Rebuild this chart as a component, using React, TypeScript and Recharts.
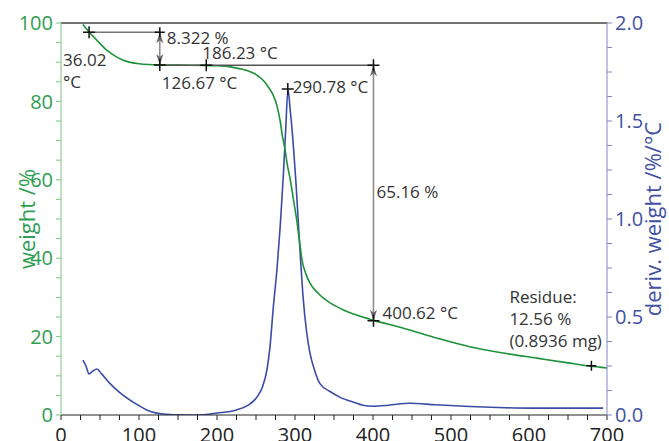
import React from 'react';
import { ComposedChart, Line, XAxis, YAxis, ReferenceLine, ReferenceDot } from 'recharts';

const FONT = '"Open Sans", "Noto Sans", sans-serif';

// TGA weight curve
const temperatureW = [28, 36, 45, 59, 70, 80, 100, 127, 150, 187, 200, 217, 230, 242, 252, 260, 266, 272, 277, 281, 284, 287, 290, 294, 298, 302, 306, 309, 314, 319, 330, 345, 360, 379, 400, 438, 482, 524, 567, 610, 650, 678, 700];
const weightPct = [99.6, 97.7, 95.8, 93.0, 91.5, 90.5, 89.6, 89.3, 89.25, 89.2, 89.1, 88.8, 88.3, 87.6, 86.6, 85.2, 83.6, 81.6, 78.8, 75.0, 71.0, 68.0, 64.0, 60.0, 55.0, 50.0, 44.0, 39.5, 36.0, 33.7, 31.0, 28.6, 27.0, 25.5, 24.2, 22.2, 19.6, 17.4, 15.8, 14.5, 13.3, 12.5, 12.0];

// DTG derivative curve
const temperatureD = [28, 32, 36, 41, 46, 52, 63, 75, 88, 100, 110, 120, 131, 150, 174, 200, 225, 240, 251, 258, 264, 268, 272, 277, 281, 285, 288, 291, 294, 297, 301, 304, 307, 310, 315, 319, 325, 332, 345, 358, 375, 387, 400, 420, 447, 480, 524, 560, 601, 650, 695];
const derivWeight = [0.28, 0.25, 0.21, 0.225, 0.235, 0.21, 0.16, 0.115, 0.077, 0.048, 0.026, 0.012, 0.005, 0.001, 0.0, 0.01, 0.026, 0.05, 0.09, 0.14, 0.23, 0.35, 0.54, 0.75, 0.96, 1.22, 1.45, 1.66, 1.55, 1.42, 1.2, 1.0, 0.8, 0.62, 0.42, 0.32, 0.23, 0.16, 0.12, 0.09, 0.065, 0.05, 0.045, 0.05, 0.06, 0.052, 0.043, 0.038, 0.035, 0.035, 0.035];

const xTicks = [0, 25, 50, 75, 100, 125, 150, 175, 200, 225, 250, 275, 300, 325, 350, 375, 400, 425, 450, 475, 500, 525, 550, 575, 600, 625, 650, 675, 700];
const leftTicks = [0, 5, 10, 15, 20, 25, 30, 35, 40, 45, 50, 55, 60, 65, 70, 75, 80, 85, 90, 95, 100];
const rightTicks = [0, 0.125, 0.25, 0.375, 0.5, 0.625, 0.75, 0.875, 1.0, 1.125, 1.25, 1.375, 1.5, 1.625, 1.75, 1.875, 2.0];

// annotation values
const onsetT = 36.02;
const onsetW = 97.62;
const step1T = 126.67;
const step1W = 89.3;
const step2T = 186.23;
const step2W = 89.2;
const peakT = 290.78;
const peakD = 1.663;
const endT = 400.62;
const endW = 24.04;
const residueT = 680;
const residueW = 12.56;

const weightData = temperatureW.map((t, i) => ({ t, w: weightPct[i] }));
const derivData = temperatureD.map((t, i) => ({ t, d: derivWeight[i] }));

const GREEN = '#1f9139';
const GREEN_TXT = '#2f9e52';
const BLUE = '#3b4ca6';
const BLUE_TXT = '#3f51a3';
const ANN = '#333';

const plusShape = (size: number) => (p: any) => (
  <path d={`M${p.cx - size},${p.cy}H${p.cx + size}M${p.cx},${p.cy - size}V${p.cy + size}`} stroke="#111" strokeWidth={1.5} fill="none" />
);
const arrowUp = (p: any) => (
  <path d={`M${p.cx},${p.cy}L${p.cx - 3.5},${p.cy + 11}L${p.cx},${p.cy + 8}L${p.cx + 3.5},${p.cy + 11}Z`} fill="#666" />
);
const arrowDown = (p: any) => (
  <path d={`M${p.cx},${p.cy}L${p.cx - 3.5},${p.cy - 11}L${p.cx},${p.cy - 8}L${p.cx + 3.5},${p.cy - 11}Z`} fill="#666" />
);
const textShape = (lines: string[], dx: number, dy: number, lh = 22) => (p: any) => (
  <text x={p.cx + dx} y={p.cy + dy} fill={ANN} fontSize={17} fontFamily={FONT}>
    {lines.map((l, i) => (
      <tspan key={i} x={p.cx + dx} dy={i === 0 ? 0 : lh}>{l}</tspan>
    ))}
  </text>
);

const leftTitle = (props: any) => {
  const vb = props.viewBox || { x: 0, y: 23, width: 61, height: 392 };
  const cx = vb.x + 26;
  const cy = vb.y + vb.height / 2;
  return (
    <text x={cx} y={cy} transform={`rotate(-90 ${cx} ${cy})`} textAnchor="middle" dominantBaseline="central" fill={GREEN_TXT} fontSize={22} fontFamily={FONT}>
      weight /%
    </text>
  );
};
const rightTitle = (props: any) => {
  const vb = props.viewBox || { x: 607, y: 23, width: 62, height: 392 };
  const cx = vb.x + 45;
  const cy = vb.y + vb.height / 2;
  return (
    <text x={cx} y={cy} transform={`rotate(-90 ${cx} ${cy})`} textAnchor="middle" dominantBaseline="central" fill={BLUE_TXT} fontSize={22} fontFamily={FONT}>
      deriv. weight /%/°C
    </text>
  );
};

export default function App() {
  return (
    <div style={{ position: 'absolute', left: 0, top: 0 }}>
      <ComposedChart width={669} height={441} margin={{ top: 23, right: 0, bottom: 0, left: 0 }}>
        <XAxis
          type="number"
          dataKey="t"
          domain={[0, 700]}
          ticks={xTicks}
          interval={0}
          tickFormatter={(v: number) => (v % 100 === 0 ? String(v) : '')}
          height={26}
          tickSize={5}
          tickMargin={8}
          stroke="#222"
          tick={{ fill: '#222', fontSize: 20, fontFamily: FONT }}
          allowDataOverflow
        />
        <YAxis
          yAxisId="w"
          domain={[0, 100]}
          ticks={leftTicks}
          interval={0}
          tickFormatter={(v: number) => (v % 20 === 0 ? String(v) : '')}
          width={61}
          tickSize={5}
          tickMargin={3}
          stroke="#7cc47f"
          tick={{ fill: GREEN_TXT, fontSize: 20, fontFamily: FONT }}
          label={{ content: leftTitle }}
          allowDataOverflow
        />
        <YAxis
          yAxisId="d"
          orientation="right"
          domain={[0, 2]}
          ticks={rightTicks}
          interval={0}
          tickFormatter={(v: number) => (Math.abs(v * 2 - Math.round(v * 2)) < 1e-9 ? v.toFixed(1) : '')}
          width={62}
          tickSize={5}
          tickMargin={3}
          stroke="#8088c4"
          tick={{ fill: BLUE_TXT, fontSize: 20, fontFamily: FONT }}
          label={{ content: rightTitle }}
          allowDataOverflow
        />
        <ReferenceLine yAxisId="w" y={100} stroke="#444" strokeWidth={1.5} />

        <Line yAxisId="d" data={derivData} dataKey="d" type="monotone" stroke={BLUE} strokeWidth={1.6} dot={false} isAnimationActive={false} />
        <Line yAxisId="w" data={weightData} dataKey="w" type="monotone" stroke={GREEN} strokeWidth={1.6} dot={false} isAnimationActive={false} />

        <ReferenceLine yAxisId="w" segment={[{ x: onsetT, y: onsetW }, { x: step1T, y: onsetW }]} stroke="#777" strokeWidth={1.5} />
        <ReferenceLine yAxisId="w" segment={[{ x: step1T, y: onsetW }, { x: step1T, y: step1W }]} stroke="#888" strokeWidth={1.5} />
        <ReferenceLine yAxisId="w" segment={[{ x: step1T, y: step2W }, { x: endT, y: step2W }]} stroke="#555" strokeWidth={1.5} />
        <ReferenceLine yAxisId="w" segment={[{ x: endT, y: step2W }, { x: endT, y: endW }]} stroke="#888" strokeWidth={1.5} />

        <ReferenceDot yAxisId="w" x={step1T} y={onsetW} r={1} shape={arrowUp} />
        <ReferenceDot yAxisId="w" x={step1T} y={step1W} r={1} shape={arrowDown} />
        <ReferenceDot yAxisId="w" x={endT} y={step2W} r={1} shape={arrowUp} />
        <ReferenceDot yAxisId="w" x={endT} y={endW} r={1} shape={arrowDown} />

        <ReferenceDot yAxisId="w" x={onsetT} y={onsetW} r={1} shape={plusShape(6)} />
        <ReferenceDot yAxisId="w" x={step1T} y={onsetW} r={1} shape={plusShape(5)} />
        <ReferenceDot yAxisId="w" x={step1T} y={step1W} r={1} shape={plusShape(6)} />
        <ReferenceDot yAxisId="w" x={step2T} y={step2W} r={1} shape={plusShape(6)} />
        <ReferenceDot yAxisId="w" x={endT} y={step2W} r={1} shape={plusShape(6)} />
        <ReferenceDot yAxisId="w" x={endT} y={endW} r={1} shape={plusShape(6)} />
        <ReferenceDot yAxisId="d" x={peakT} y={peakD} r={1} shape={plusShape(6)} />
        <ReferenceDot yAxisId="w" x={residueT} y={residueW} r={1} shape={plusShape(5)} />

        <ReferenceDot yAxisId="w" x={onsetT} y={onsetW} r={1} shape={textShape(['36.02', '°C'], -26, 34)} />
        <ReferenceDot yAxisId="w" x={step1T} y={onsetW} r={1} shape={textShape(['8.322 %'], 7, 12)} />
        <ReferenceDot yAxisId="w" x={step2T} y={step2W} r={1} shape={textShape(['186.23 °C'], -4, -6)} />
        <ReferenceDot yAxisId="w" x={step1T} y={step1W} r={1} shape={textShape(['126.67 °C'], 2, 24)} />
        <ReferenceDot yAxisId="d" x={peakT} y={peakD} r={1} shape={textShape(['290.78 °C'], 5, 4)} />
        <ReferenceDot yAxisId="w" x={endT} y={57} r={1} shape={textShape(['65.16 %'], 3, 6)} />
        <ReferenceDot yAxisId="w" x={endT} y={endW} r={1} shape={textShape(['400.62 °C'], 9, -2)} />
        <ReferenceDot yAxisId="w" x={residueT} y={residueW} r={1} shape={textShape(['Residue:', '12.56 %', '(0.8936 mg)'], -82, -63, 22)} />
      </ComposedChart>
    </div>
  );
}
